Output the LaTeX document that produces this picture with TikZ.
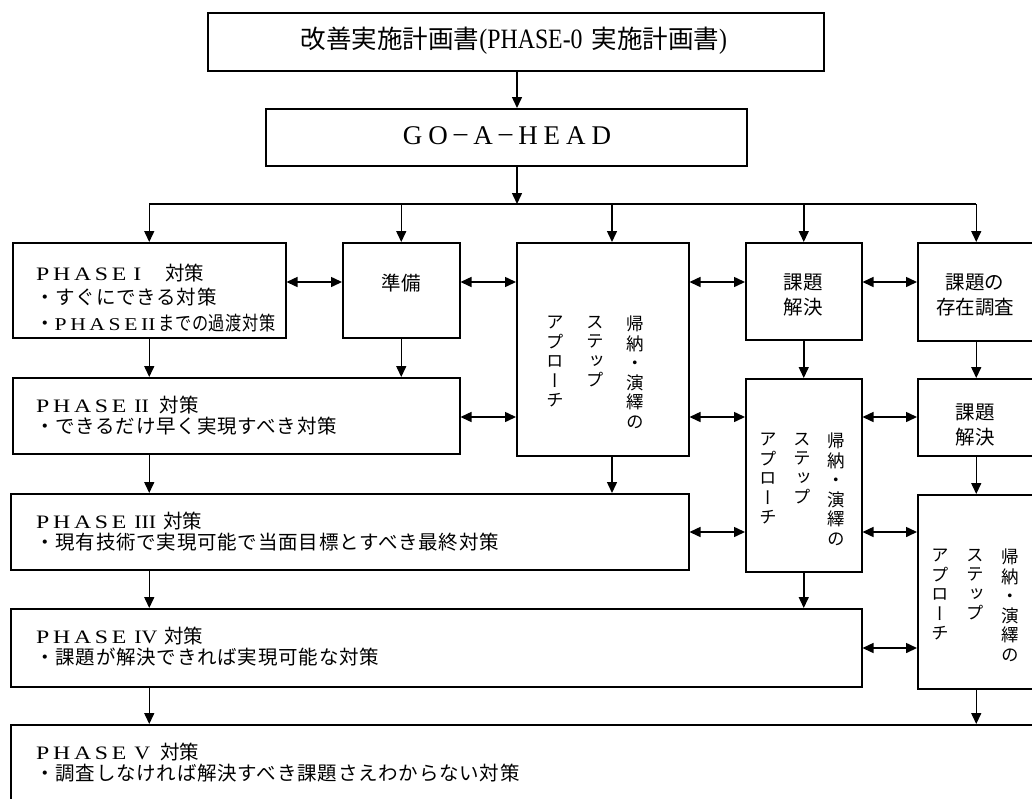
\documentclass[tikz,border=0pt]{standalone}
\usepackage{fontspec}
\usepackage{graphicx}
\setmainfont{Liberation Serif}
\newfontfamily\jp{Noto Sans CJK JP}
\newfontfamily\jpl[LetterSpace=4]{Noto Sans CJK JP}
\newfontfamily\jpv[RawFeature=+vert]{Noto Sans CJK JP}
\newfontfamily\lat{Liberation Serif}
\usetikzlibrary{arrows.meta,calc}
\newcommand\PHword{\scalebox{1.25}[1]{P\kern3pt H\kern3pt A\kern3pt S\kern3pt E}}
\newcommand\gsp{\hspace{6pt}}
\newcommand\tk{\kern3pt}
\newcommand\gdash{\raisebox{3pt}{–}}
\newcommand\ttlfont{\lat\fontsize{19}{19}\selectfont}
\newcommand\tai{{\jp\fontsize{19.5}{19.5}\selectfont 対策}}
\tikzset{
  box/.style={draw, line width=1.5pt, inner sep=0pt, anchor=north west},
  arr/.style={line width=1.5pt, -{Triangle[length=11pt,width=10pt]}},
  darr/.style={line width=1.5pt, {Triangle[length=11pt,width=10pt]}-{Triangle[length=11pt,width=10pt]}},
  plain/.style={line width=1.5pt},
  ttl/.style={anchor=west, inner sep=0pt},
  jline/.style={anchor=west, inner sep=0pt, font=\jpl\fontsize{19.5}{19.5}\selectfont},
  ctxt/.style={inner sep=0pt, align=center, font=\jp\fontsize{19.5}{25}\selectfont},
  vtxt/.style={inner sep=0pt, align=center, anchor=north, font=\jpv\fontsize{17.5}{19.5}\selectfont},
}
\begin{document}
\begin{tikzpicture}[x=1pt,y=-1pt]
\clip (0,0) rectangle (1032,798);
\fill[white] (0,0) rectangle (1032,798);
% boxes
\node[box, minimum width=616pt, minimum height=58pt] (top) at (207,12) {};
\node[box, minimum width=481pt, minimum height=57pt] (go) at (265,108) {};
\node[box, minimum width=273pt, minimum height=95pt] (p1) at (12,242) {};
\node[box, minimum width=117pt, minimum height=95pt] (jun) at (342,242) {};
\node[box, minimum width=172pt, minimum height=213pt] (big) at (516,242) {};
\node[box, minimum width=116pt, minimum height=97pt] (kd1) at (745,242) {};
\node[box, minimum width=117pt, minimum height=98pt] (sz) at (917,242) {};
\node[box, minimum width=447pt, minimum height=76pt] (p2) at (12,377) {};
\node[box, minimum width=116pt, minimum height=193pt] (v2) at (745,378) {};
\node[box, minimum width=117pt, minimum height=77pt] (kd2) at (917,378) {};
\node[box, minimum width=678pt, minimum height=76pt] (p3) at (10,493) {};
\node[box, minimum width=117pt, minimum height=194pt] (v3) at (917,494) {};
\node[box, minimum width=851pt, minimum height=78pt] (p4) at (10,608) {};
\node[box, minimum width=1030pt, minimum height=90pt] (p5) at (10,724) {};
% texts
\node[inner sep=0pt] (toptxt) at (514,41) {{\jp\fontsize{25.5}{26}\selectfont 改善実施計画書}\scalebox{0.85}[1]{\lat\fontsize{28}{28}\selectfont (PHASE-0}\hspace{9pt}{\jp\fontsize{25.5}{26}\selectfont 実施計画書}\scalebox{0.85}[1]{\lat\fontsize{28}{28}\selectfont )}};
\node[inner sep=0pt] (gotxt) at (507,136) {\lat\fontsize{27}{27}\selectfont G\gsp O\gsp\gdash\gsp A\gsp\gdash\gsp H\gsp E\gsp A\gsp D};
\node[ttl] (p1a) at (36,273) {\ttlfont\PHword\hspace{7pt}\scalebox{1.25}[1]{I}\hspace{24pt}\tai};
\node[jline] (p1b) at (35,297) {・すぐにできる対策};
\node[jline] (p1c) at (35,323) {・\scalebox{1.2}[1]{\lat\fontsize{18}{18}\selectfont P\tk H\tk A\tk S\tk E\tk II}\kern3pt\scalebox{0.83}[1]{までの過渡対策}};
\node[ctxt] (juntxt) at (401,283) {準備};
\node[ctxt] (kd1txt) at (803,295) {課題\\解決};
\node[ctxt] (sztxt) at (975,295) {課題の\\存在調査};
\node[ttl] (p2a) at (36,405) {\ttlfont\PHword\hspace{8pt}\scalebox{1.15}[1]{II}\hspace{11pt}\tai};
\node[jline] (p2b) at (35,426) {・できるだけ早く実現すべき対策};
\node[ctxt] (kd2txt) at (975,425) {課題\\解決};
\node[ttl] (p3a) at (36,521) {\ttlfont\PHword\hspace{8pt}\scalebox{1.15}[1]{III}\hspace{7pt}\tai};
\node[jline] (p3b) at (35,542) {・現有技術で実現可能で当面目標とすべき最終対策};
\node[ttl] (p4a) at (36,636) {\ttlfont\PHword\hspace{8pt}\scalebox{1.15}[1]{IV}\hspace{7pt}\tai};
\node[jline] (p4b) at (35,657) {・課題が解決できれば実現可能な対策};
\node[ttl] (p5a) at (36,752) {\ttlfont\PHword\hspace{8pt}\scalebox{1.15}[1]{V}\hspace{10pt}\tai};
\node[jline] (p5b) at (35,773) {・調査しなければ解決すべき課題さえわからない対策};
% vertical texts
\node[vtxt] (b1) at (635,316) {帰\\納\\・\\演\\繹\\の};
\node[vtxt] (b2) at (595,316) {ス\\テ\\ッ\\プ};
\node[vtxt] (b3) at (555,316) {ア\\プ\\ロ\\ー\\チ};
\node[vtxt] (c1) at (836,433) {帰\\納\\・\\演\\繹\\の};
\node[vtxt] (c2) at (802,433) {ス\\テ\\ッ\\プ};
\node[vtxt] (c3) at (768,433) {ア\\プ\\ロ\\ー\\チ};
\node[vtxt] (d1) at (1010,549) {帰\\納\\・\\演\\繹\\の};
\node[vtxt] (d2) at (975,549) {ス\\テ\\ッ\\プ};
\node[vtxt] (d3) at (940,549) {ア\\プ\\ロ\\ー\\チ};
% connectors
\coordinate (ax) at (517,0);
\coordinate (split) at (517,204);
\coordinate (bx) at (612,204);
\coordinate (r1) at (0,282);
\coordinate (r2) at (0,417);
\coordinate (r3) at (0,532);
\coordinate (r4) at (0,648);
\draw[arr] (top.south -| ax) -- (go.north -| ax);
\draw[arr] (go.south -| ax) -- (split);
\draw[plain] (p1.north |- split) -- (sz.north |- split);
\draw[arr] (p1.north |- split) -- (p1.north);
\draw[arr] (jun.north |- split) -- (jun.north);
\draw[arr] (bx) -- (bx |- big.north);
\draw[arr] (kd1.north |- split) -- (kd1.north);
\draw[arr] (sz.north |- split) -- (sz.north);
\draw[darr] (p1.east |- r1) -- (jun.west |- r1);
\draw[darr] (jun.east |- r1) -- (big.west |- r1);
\draw[darr] (big.east |- r1) -- (kd1.west |- r1);
\draw[darr] (kd1.east |- r1) -- (sz.west |- r1);
\draw[arr] (p1.south) -- (p1.south |- p2.north);
\draw[arr] (jun.south) -- (jun.south |- p2.north);
\draw[arr] (kd1.south) -- (kd1.south |- v2.north);
\draw[arr] (sz.south) -- (sz.south |- kd2.north);
\draw[darr] (p2.east |- r2) -- (big.west |- r2);
\draw[darr] (big.east |- r2) -- (v2.west |- r2);
\draw[darr] (v2.east |- r2) -- (kd2.west |- r2);
\draw[arr] (p1.south |- p2.south) -- (p1.south |- p3.north);
\draw[arr] (bx |- big.south) -- (bx |- p3.north);
\draw[arr] (kd2.south) -- (kd2.south |- v3.north);
\draw[darr] (p3.east |- r3) -- (v2.west |- r3);
\draw[darr] (v2.east |- r3) -- (v3.west |- r3);
\draw[arr] (p1.south |- p3.south) -- (p1.south |- p4.north);
\draw[arr] (v2.south) -- (v2.south |- p4.north);
\draw[darr] (p4.east |- r4) -- (v3.west |- r4);
\draw[arr] (p1.south |- p4.south) -- (p1.south |- p5.north);
\draw[arr] (v3.south) -- (v3.south |- p5.north);
\end{tikzpicture}
\end{document}
